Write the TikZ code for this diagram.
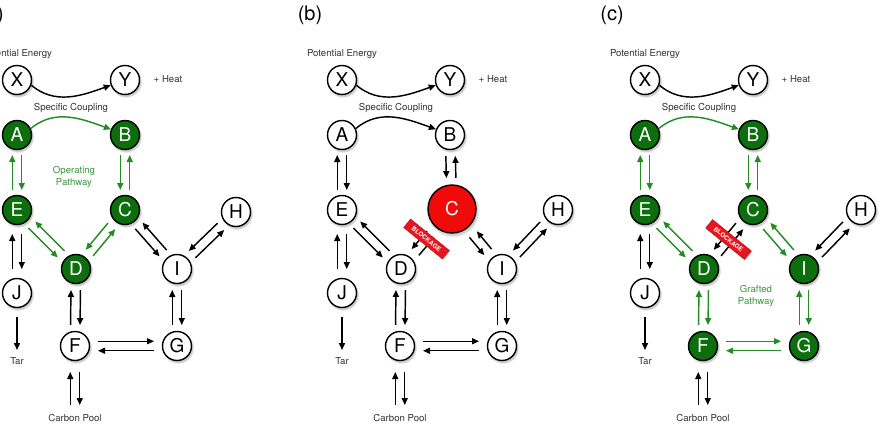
\documentclass[tikz,border=0pt]{standalone}
\usepackage{fontspec}
\setmainfont{TeX Gyre Heros}
\usetikzlibrary{calc,arrows.meta,shadows}
\definecolor{ngreen}{RGB}{12,110,12}
\definecolor{agreen}{RGB}{35,140,35}
\definecolor{tgreen}{RGB}{60,150,60}
\definecolor{cred}{RGB}{240,10,10}
\definecolor{bred}{RGB}{232,20,30}
\tikzset{
  nd/.style={circle, draw=black, line width=1.4pt, minimum size=29pt, inner sep=0pt,
    font=\fontsize{19}{19}\selectfont,
    circular drop shadow={shadow xshift=0.8pt, shadow yshift=-1.5pt, shadow scale=1.12, opacity=0.45}},
  wn/.style={nd, fill=white, text=black},
  gn/.style={nd, fill=ngreen, text=white},
  rn/.style={nd, fill=cred, text=white, minimum size=48pt},
  arr/.style={line width=1.45pt, -{Triangle[length=7pt,width=6pt]}},
  ba/.style={arr, color=black},
  ga/.style={arr, color=agreen},
  lbl/.style={font=\fontsize{9.6}{11}\selectfont, text=black!80},
  glbl/.style={font=\fontsize{9.6}{11.5}\selectfont, text=tgreen, align=center},
  plbl/.style={font=\fontsize{20}{20}\selectfont, inner sep=0pt},
  blk/.style={rectangle, fill=bred, draw=bred!70!black, line width=0.3pt,
    minimum width=50pt, minimum height=11pt, inner sep=0pt, rotate=-39,
    text=white, font=\fontsize{6.3}{6.3}\selectfont\bfseries,
    drop shadow={opacity=0.3, shadow xshift=0.8pt, shadow yshift=-1pt}}
}
% #1 P, #2 Q, #3 side of P->Q arrow (90/-90), #4 gap from P, #5 gap from Q, #6 style P->Q, #7 style Q->P
\newcommand{\bipair}[7]{%
  \draw[#6] ($(#1)!#4!(#2)!4.75pt!#3:(#2)$) -- ($(#2)!#5!(#1)!4.75pt!#3+180:(#1)$);
  \draw[#7] ($(#2)!#5!(#1)!4.75pt!#3:(#1)$) -- ($(#1)!#4!(#2)!4.75pt!#3+180:(#2)$);
}
\begin{document}
\begin{tikzpicture}[x=1pt,y=1pt]
\useasboundingbox (0,0) rectangle (880,-434);
\fill[white] (0,0) rectangle (880,-434);

% ---------------- panel (a)
\begin{scope}[shift={(17,-80)}]
\node[plbl, anchor=east] (alab) at (-13,65) {(a)};
\node[lbl] (apot) at (0,26) {Potential Energy};
\node[wn] (aX) at (0,0) {X};
\node[wn] (aY) at (108,0) {Y};
\node[lbl] (aheat) at (151,1) {+ Heat};
\node[lbl] (asc) at (54,-28) {Specific Coupling};
\node[gn] (aA) at (0,-55) {A};
\node[gn] (aB) at (108,-55) {B};
\node[glbl] (aop) at (57,-97) {Operating\\Pathway};
\node[gn] (aE) at (0,-130) {E};
\node[gn] (aC) at (108,-130) {C};
\node[wn] (aH) at (219,-132) {H};
\node[gn] (aD) at (59,-189) {D};
\node[wn] (aI) at (160,-189) {I};
\node[wn] (aJ) at (0,-213) {J};
\node[wn] (aF) at (58,-266) {F};
\node[wn] (aG) at (160,-266) {G};
\node[lbl] (atar) at (0,-281) {Tar};
\node[lbl] (apool) at (58,-338) {Carbon Pool};
\coordinate (atarend) at (0,-270);
\coordinate (apoolend) at (58,-325);
\draw[ba] (aX.-20) to[out=-40,in=200] (aY.200);
\draw[ga] (aA.25) to[out=40,in=160] (aB.158);
\bipair{aA}{aE}{90}{20pt}{20pt}{ga}{ga}
\bipair{aB}{aC}{-90}{20pt}{20pt}{ga}{ga}
\bipair{aE}{aD}{-90}{21pt}{21pt}{ga}{ga}
\bipair{aC}{aD}{-90}{21pt}{21pt}{ga}{ga}
\bipair{aC}{aI}{-90}{21pt}{21pt}{ba}{ba}
\bipair{aH}{aI}{-90}{21pt}{21pt}{ba}{ba}
\bipair{aE}{aJ}{90}{24pt}{24pt}{ba}{ba}
\draw[ba] ($(aJ)!24pt!(atarend)$) -- (atarend);
\bipair{aD}{aF}{90}{21pt}{21pt}{ba}{ba}
\bipair{aI}{aG}{90}{21pt}{21pt}{ba}{ba}
\bipair{aF}{aG}{90}{23pt}{23pt}{ba}{ba}
\bipair{aF}{apoolend}{90}{26pt}{0pt}{ba}{ba}
\end{scope}

% ---------------- panel (b)
\begin{scope}[shift={(342,-80)}]
\node[plbl] (blab) at (-32,65) {(b)};
\node[lbl] (bpot) at (0,26) {Potential Energy};
\node[wn] (bX) at (0,0) {X};
\node[wn] (bY) at (108,0) {Y};
\node[lbl] (bheat) at (151,1) {+ Heat};
\node[lbl] (bsc) at (54,-28) {Specific Coupling};
\node[wn] (bA) at (0,-55) {A};
\node[wn] (bB) at (108,-55) {B};
\node[wn] (bE) at (0,-130) {E};
\node[rn] (bC) at (110,-129) {C};
\node[wn] (bH) at (216,-130) {H};
\node[wn] (bD) at (59,-189) {D};
\node[wn] (bI) at (160,-189) {I};
\node[wn] (bJ) at (0,-213) {J};
\node[wn] (bF) at (58,-266) {F};
\node[wn] (bG) at (160,-266) {G};
\node[lbl] (btar) at (0,-281) {Tar};
\node[lbl] (bpool) at (58,-338) {Carbon Pool};
\coordinate (btarend) at (0,-270);
\coordinate (bpoolend) at (58,-325);
\draw[ba] (bX.-20) to[out=-40,in=200] (bY.200);
\draw[ba] (bA.25) to[out=40,in=160] (bB.158);
\bipair{bA}{bE}{90}{20pt}{20pt}{ba}{ba}
\bipair{bB}{bC}{-90}{21pt}{31pt}{ba}{ba}
\bipair{bE}{bD}{-90}{21pt}{21pt}{ba}{ba}
\bipair{bC}{bD}{-90}{33pt}{22pt}{ba}{ba}
\bipair{bC}{bI}{-90}{33pt}{22pt}{ba}{ba}
\bipair{bH}{bI}{-90}{21pt}{21pt}{ba}{ba}
\bipair{bE}{bJ}{90}{24pt}{24pt}{ba}{ba}
\draw[ba] ($(bJ)!24pt!(btarend)$) -- (btarend);
\bipair{bD}{bF}{90}{21pt}{21pt}{ba}{ba}
\bipair{bI}{bG}{90}{21pt}{21pt}{ba}{ba}
\bipair{bF}{bG}{90}{23pt}{23pt}{ba}{ba}
\bipair{bF}{bpoolend}{90}{26pt}{0pt}{ba}{ba}
\node[blk] (bblk) at ($(bC)!0.5!(bD)$) {BLOCKAGE};
\end{scope}

% ---------------- panel (c)
\begin{scope}[shift={(645,-80)}]
\node[plbl] (clab) at (-33,65) {(c)};
\node[lbl] (cpot) at (0,26) {Potential Energy};
\node[wn] (cX) at (0,0) {X};
\node[wn] (cY) at (108,0) {Y};
\node[lbl] (cheat) at (151,1) {+ Heat};
\node[lbl] (csc) at (54,-28) {Specific Coupling};
\node[gn] (cA) at (0,-55) {A};
\node[gn] (cB) at (108,-55) {B};
\node[gn] (cE) at (0,-130) {E};
\node[gn] (cC) at (108,-130) {C};
\node[wn] (cH) at (216,-130) {H};
\node[gn] (cD) at (59,-189) {D};
\node[gn] (cI) at (159,-189) {I};
\node[glbl] (cgr) at (111,-216) {Grafted\\Pathway};
\node[wn] (cJ) at (0,-213) {J};
\node[gn] (cF) at (58,-266) {F};
\node[gn] (cG) at (159,-266) {G};
\node[lbl] (ctar) at (0,-281) {Tar};
\node[lbl] (cpool) at (58,-338) {Carbon Pool};
\coordinate (ctarend) at (0,-270);
\coordinate (cpoolend) at (58,-325);
\draw[ba] (cX.-20) to[out=-40,in=200] (cY.200);
\draw[ga] (cA.25) to[out=40,in=160] (cB.158);
\bipair{cA}{cE}{90}{20pt}{20pt}{ga}{ga}
\bipair{cB}{cC}{-90}{20pt}{20pt}{ga}{ga}
\bipair{cE}{cD}{-90}{21pt}{21pt}{ga}{ga}
\bipair{cC}{cD}{-90}{21pt}{21pt}{ba}{ba}
\bipair{cC}{cI}{-90}{21pt}{21pt}{ga}{ga}
\bipair{cH}{cI}{-90}{21pt}{21pt}{ba}{ba}
\bipair{cE}{cJ}{90}{24pt}{24pt}{ba}{ba}
\draw[ba] ($(cJ)!24pt!(ctarend)$) -- (ctarend);
\bipair{cD}{cF}{90}{21pt}{21pt}{ga}{ga}
\bipair{cI}{cG}{90}{21pt}{21pt}{ga}{ga}
\bipair{cF}{cG}{90}{23pt}{23pt}{ga}{ga}
\bipair{cF}{cpoolend}{90}{26pt}{0pt}{ba}{ba}
\node[blk] (cblk) at ($(cC)!0.5!(cD)$) {BLOCKAGE};
\end{scope}
\end{tikzpicture}
\end{document}
